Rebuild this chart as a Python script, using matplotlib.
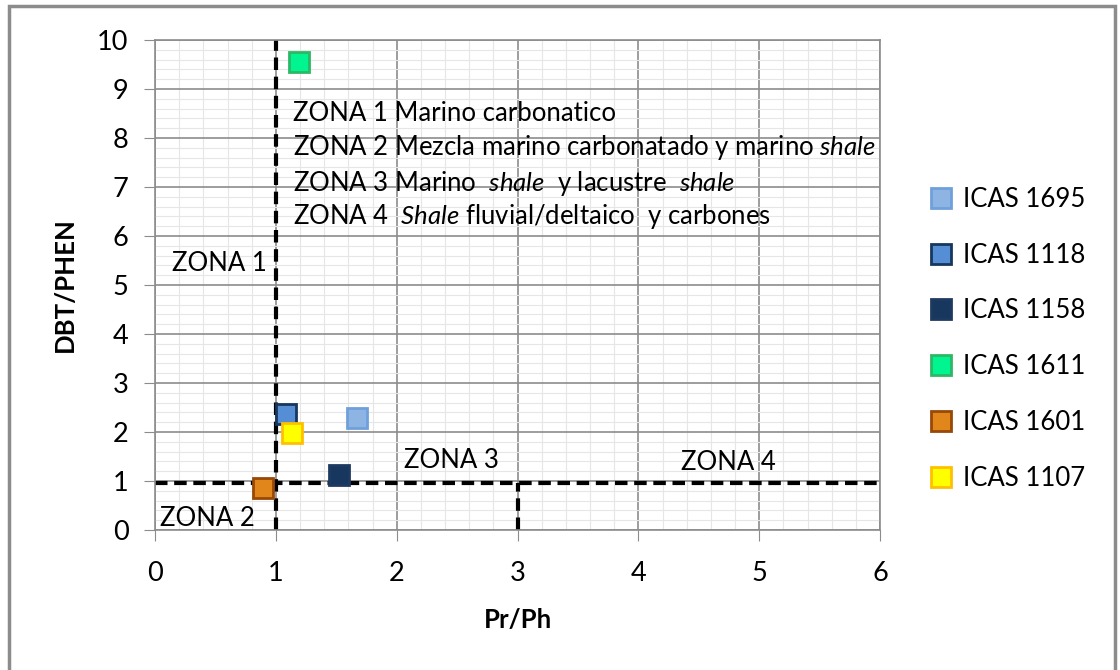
import matplotlib
import matplotlib.pyplot as plt
from matplotlib.patches import Rectangle
from matplotlib.ticker import MultipleLocator

matplotlib.use('Agg')
plt.rcParams['font.family'] = ['Lato', 'DejaVu Sans']
plt.rcParams['mathtext.fontset'] = 'custom'
plt.rcParams['mathtext.rm'] = 'Lato'
plt.rcParams['mathtext.it'] = 'Lato:italic'

# datos
muestras = ['ICAS 1695', 'ICAS 1118', 'ICAS 1158', 'ICAS 1611', 'ICAS 1601', 'ICAS 1107']
pr_ph = [1.67, 1.08, 1.52, 1.19, 0.89, 1.13]
dbt_phen = [2.28, 2.37, 1.12, 9.55, 0.86, 1.98]
relleno = ['#8EB4E3', '#558ED5', '#17375E', '#00F591', '#E0861A', '#FFFF00']
borde = ['#6FA0DC', '#17375E', '#1F3A60', '#2DB865', '#984807', '#FFC000']

# limites de zonas
limite_x1 = 1.0
limite_x2 = 3.0
limite_y = 0.95

fs = 18.5

fig = plt.figure(figsize=(11.2, 6.7), dpi=100)
ax = fig.add_axes([155 / 1120, 1 - 530 / 670, 725 / 1120, 490 / 670])

# marco exterior
fig.patches.append(Rectangle((9 / 1120, -0.05), 1106 / 1120, 1.05 - 6 / 670, transform=fig.transFigure,
                             fill=False, edgecolor='#8c8c8c', linewidth=2.5))

ax.set_xlim(0, 6)
ax.set_ylim(0, 10)
ax.xaxis.set_major_locator(MultipleLocator(1))
ax.yaxis.set_major_locator(MultipleLocator(1))
ax.xaxis.set_minor_locator(MultipleLocator(0.2))
ax.yaxis.set_minor_locator(MultipleLocator(0.2))
ax.grid(which='major', color='#8c8c8c', linewidth=1.2)
ax.grid(which='minor', color='#e6e6e6', linewidth=0.8)
ax.set_axisbelow(True)
for s in ax.spines.values():
    s.set_color('#8c8c8c')
    s.set_linewidth(1.2)
ax.tick_params(which='major', length=8, color='#8c8c8c', labelsize=19.5)
ax.tick_params(axis='x', which='major', pad=14)
ax.tick_params(axis='y', which='major', pad=11)
ax.tick_params(which='minor', length=0)

# lineas de zonas
ax.plot([limite_x1, limite_x1], [0, 10], color='black', linestyle='--', linewidth=3, dashes=(3, 1.6))
ax.plot([0, 6], [limite_y, limite_y], color='black', linestyle='--', linewidth=3, dashes=(3, 1.6))
ax.plot([limite_x2, limite_x2], [0, limite_y], color='black', linestyle='--', linewidth=3, dashes=(3, 1.6))

for i in range(len(muestras)):
    ax.plot(pr_ph[i], dbt_phen[i], marker='s', markersize=15, linestyle='none',
            markerfacecolor=relleno[i], markeredgecolor=borde[i], markeredgewidth=2,
            label=muestras[i], zorder=5)

ax.text(0.14, 5.43, 'ZONA 1', fontsize=fs, va='center')
ax.text(0.04, 0.24, 'ZONA 2', fontsize=fs, va='center')
ax.text(2.06, 1.42, 'ZONA 3', fontsize=fs, va='center')
ax.text(4.35, 1.38, 'ZONA 4', fontsize=fs, va='center')

ax.text(1.14, 8.5, 'ZONA 1 Marino carbonatico', fontsize=fs, va='center')
ax.text(1.14, 7.8, 'ZONA 2 Mezcla marino carbonatado y marino $\\it{shale}$', fontsize=fs, va='center')
ax.text(1.14, 7.08, 'ZONA 3 Marino  $\\it{shale}$  y lacustre  $\\it{shale}$', fontsize=fs, va='center')
ax.text(1.14, 6.39, 'ZONA 4  $\\it{Shale}$ fluvial/deltaico  y carbones', fontsize=fs, va='center')

ax.set_xlabel('Pr/Ph', fontsize=fs, fontweight='bold', labelpad=16)
ax.set_ylabel('DBT/PHEN', fontsize=fs, fontweight='bold', labelpad=15)

ax.legend(loc='center left', bbox_to_anchor=(1.05, 0.39), frameon=False, fontsize=fs,
          labelspacing=1.2, handletextpad=0.3, handlelength=1.1, borderaxespad=0)

fig.savefig('out.png', dpi=100)
